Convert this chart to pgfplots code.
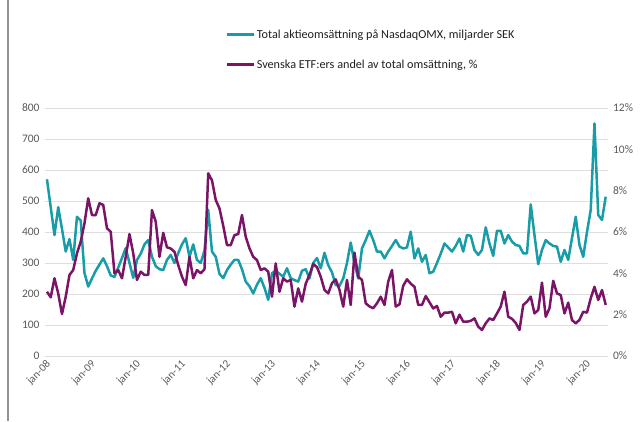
\documentclass[border=0pt]{standalone}
\usepackage{fontspec}
\setmainfont{Carlito}
\usepackage{pgfplots}
\usepackage{pgfplotstable}
\pgfplotsset{compat=1.18}
\definecolor{tealc}{RGB}{24,157,168}
\definecolor{purp}{RGB}{122,20,102}
\definecolor{lblgray}{RGB}{89,89,89}
\definecolor{gridgray}{RGB}{222,222,222}
\pgfplotstableread{
m v
0 570
1 480
2 390
3 480
4 410
5 337
6 377
7 310
8 449
9 437
10 268
11 224
12 250
13 275
14 295
15 315
16 290
17 260
18 255
19 285
20 316
21 348
22 300
23 252
24 310
25 330
26 360
27 374
28 320
29 290
30 280
31 277
32 310
33 326
34 300
35 332
36 360
37 380
38 320
39 360
40 310
41 300
42 340
43 471
44 337
45 320
46 265
47 251
48 277
49 295
50 310
51 310
52 280
53 240
54 225
55 202
56 230
57 251
58 220
59 181
60 267
61 275
62 265
63 256
64 283
65 251
66 245
67 240
68 275
69 280
70 250
71 300
72 316
73 283
74 333
75 293
76 270
77 229
78 226
79 250
80 300
81 366
82 300
83 250
84 347
85 374
86 404
87 374
88 337
89 337
90 315
91 337
92 355
93 374
94 353
95 347
96 350
97 401
98 315
99 347
100 304
101 326
102 267
103 272
104 300
105 330
106 363
107 350
108 337
109 355
110 379
111 337
112 390
113 388
114 342
115 326
116 342
117 415
118 363
119 323
120 404
121 404
122 363
123 390
124 369
125 358
126 355
127 331
128 331
129 489
130 390
131 296
132 342
133 374
134 363
135 355
136 353
137 304
138 342
139 310
140 380
141 449
142 358
143 320
144 400
145 471
146 750
147 455
148 439
149 514
}\turnover
\pgfplotstableread{
m v
0 3.11
1 2.84
2 3.76
3 3.03
4 2.03
5 2.87
6 3.92
7 4.16
8 4.97
9 5.53
10 6.42
11 7.63
12 6.82
13 6.82
14 7.39
15 7.31
16 6.18
17 6.01
18 4.0
19 4.16
20 3.76
21 4.8
22 5.9
23 4.97
24 3.68
25 4.08
26 3.92
27 3.92
28 7.06
29 6.5
30 4.8
31 5.96
32 5.26
33 5.2
34 5.04
35 4.4
36 3.84
37 3.43
38 4.8
39 3.76
40 4.16
41 4.0
42 4.2
43 8.84
44 8.5
45 7.55
46 7.14
47 6.3
48 5.37
49 5.37
50 5.85
51 5.9
52 6.82
53 5.77
54 5.21
55 4.8
56 4.64
57 4.16
58 4.24
59 4.08
60 2.87
61 4.48
62 3.11
63 3.76
64 3.6
65 3.68
66 2.39
67 3.27
68 2.63
69 3.5
70 3.92
71 4.45
72 4.3
73 3.84
74 3.2
75 3.03
76 3.52
77 3.71
78 3.2
79 2.39
80 3.68
81 2.47
82 5.0
83 3.84
84 3.68
85 2.55
86 2.4
87 2.31
88 2.55
89 2.87
90 2.47
91 3.6
92 4.16
93 2.39
94 2.5
95 3.4
96 3.71
97 3.5
98 3.35
99 2.47
100 2.47
101 2.9
102 2.6
103 2.3
104 2.42
105 1.9
106 2.1
107 2.1
108 2.14
109 1.58
110 2.0
111 1.66
112 1.66
113 1.7
114 1.82
115 1.42
116 1.26
117 1.58
118 1.82
119 1.74
120 2.06
121 2.39
122 3.11
123 1.9
124 1.8
125 1.6
126 1.26
127 2.47
128 2.63
129 2.87
130 2.06
131 2.23
132 3.55
133 1.9
134 2.31
135 3.64
136 3.03
137 2.95
138 2.06
139 2.58
140 1.74
141 1.58
142 1.75
143 2.14
144 2.1
145 2.79
146 3.35
147 2.71
148 3.19
149 2.47
}\etfshare
\begin{document}
\begin{tikzpicture}
\path[use as bounding box] (0pt,0pt) rectangle (643pt,421pt);
\draw[gray!85, line width=1.6pt] (8pt,0pt) -- (8pt,421pt);
\begin{axis}[
  at={(45.1pt,65pt)}, anchor=south west,
  scale only axis, width=562.5pt, height=248pt,
  xmin=-0.5, xmax=149.5, ymin=0, ymax=800,
  ytick={0,100,...,800},
  ymajorgrids, grid style={gridgray, line width=0.9pt},
  axis line style={draw=none}, tick style={draw=none},
  xtick={0,12,...,144},
  xticklabels={jan-08,jan-09,jan-10,jan-11,jan-12,jan-13,jan-14,jan-15,jan-16,jan-17,jan-18,jan-19,jan-20},
  xticklabel style={rotate=45, anchor=north east, font=\fontsize{11}{12}\selectfont, text=lblgray, yshift=2pt},
  yticklabel style={font=\fontsize{11.5}{13}\selectfont, text=lblgray, xshift=-2pt},
  /pgf/number format/assume math mode=true,
  clip=false,
]
\addplot[tealc, line width=2.5pt, line join=round] table[x=m,y=v]{\turnover};
\end{axis}
\begin{axis}[
  at={(45.1pt,65pt)}, anchor=south west,
  scale only axis, width=562.5pt, height=248pt,
  xmin=-0.5, xmax=149.5, ymin=0, ymax=12,
  axis y line*=right, axis x line=none,
  ytick={0,2,...,12},
  yticklabel={\pgfmathprintnumber{\tick}\%},
  axis line style={draw=none}, tick style={draw=none},
  yticklabel style={font=\fontsize{11.5}{13}\selectfont, text=lblgray, xshift=2pt},
  /pgf/number format/assume math mode=true,
  legend style={at={(0.32,1.325)}, anchor=north west, draw=none, fill=none,
    font=\fontsize{12.2}{14}\selectfont, text=black!88, row sep=16pt, inner sep=0pt},
  legend cell align=left,
  legend image code/.code={\draw[#1] (0pt,0pt) -- (27pt,0pt);},
  clip=false,
]
\addlegendimage{tealc, line width=2.5pt}
\addlegendentry{Total aktieomsättning på NasdaqOMX, miljarder SEK}
\addplot[purp, line width=2.5pt, line join=round] table[x=m,y=v]{\etfshare};
\addlegendentry{Svenska ETF:ers andel av total omsättning, \%}
\end{axis}
\end{tikzpicture}
\end{document}
